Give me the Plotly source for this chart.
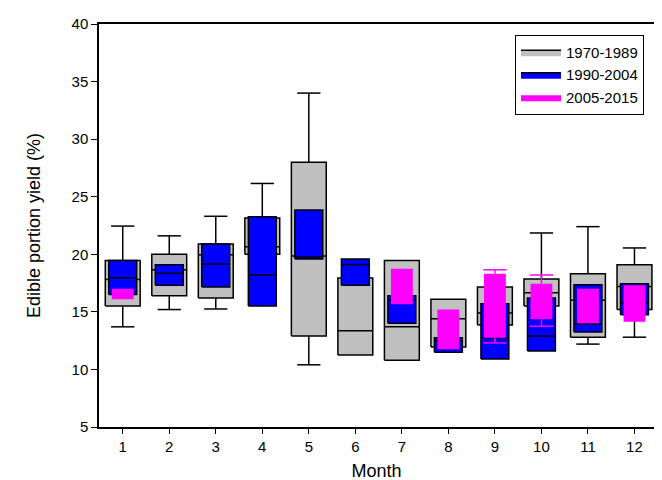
import plotly.graph_objects as go

months = [1, 2, 3, 4, 5, 6, 7, 8, 9, 10, 11, 12]
month_labels = [str(m) for m in months]

# 1970-1989 (gray)
gray_q1 = [15.5, 16.4, 16.2, 20.0, 12.9, 11.25, 10.8, 11.95, 13.85, 15.5, 12.8, 15.2]
gray_med = [17.8, 18.65, 19.95, 20.65, 19.85, 13.35, 13.7, 14.4, 14.9, 16.65, 16.0, 17.2]
gray_q3 = [19.45, 20.0, 20.9, 23.15, 28.0, 17.95, 19.45, 16.1, 17.15, 17.85, 18.3, 19.1]
gray_wlo = [13.7, 15.2, 15.25, None, 10.4, None, None, None, None, None, 12.2, 12.8]
gray_whi = [22.45, 21.6, 23.3, 26.15, 34.0, None, None, None, None, 21.85, 22.4, 20.55]

# 1990-2004 (blue)
blue_q1 = [16.5, 17.3, 17.15, 15.5, 19.6, 17.3, 14.0, 11.5, 10.9, 11.6, 13.25, 14.75]
blue_med = [17.95, 18.35, 19.15, 18.2, 19.75, 19.1, 16.05, 12.5, 12.75, 12.9, 13.95, 15.75]
blue_q3 = [19.45, 19.1, 20.9, 23.25, 23.85, 19.6, 16.4, 12.75, 15.7, 16.2, 17.35, 17.45]
blue_wlo = [None] * 12
blue_whi = [None] * 12

# 2005-2015 (magenta)
mag_q1 = [16.1, None, None, None, None, None, 15.65, 11.75, 12.75, 14.35, 14.0, 14.15]
mag_med = [16.5, None, None, None, None, None, 17.0, 13.5, 15.0, 15.5, 15.5, 15.5]
mag_q3 = [17.0, None, None, None, None, None, 18.75, 15.2, 18.3, 17.45, 17.0, 17.3]
mag_wlo = [None, None, None, None, None, None, None, None, 12.3, 13.75, None, None]
mag_whi = [None, None, None, None, None, None, None, None, 18.65, 18.2, None, None]

GRAY, BLUE, MAG = "#c0c0c0", "#0000ff", "#ff00ff"
W_GRAY, W_BLUE, W_MAG, W_CAP = 0.75, 0.6, 0.47, 0.5
FONT = "Liberation Sans, Arial, sans-serif"

fig = go.Figure()


def add_box(name, q1, med, q3, wlo, whi, color, width, line_color, line_w, med_color):
    # whiskers (drawn first, box covers the inner part)
    wx, wy = [], []
    for i, m in enumerate(months):
        for w, edge in ((wlo[i], q1[i]), (whi[i], q3[i])):
            if w is None or edge is None:
                continue
            wx += [m, m, None, m - W_CAP / 2, m + W_CAP / 2, None]
            wy += [edge, w, None, w, w, None]
    if wx:
        fig.add_trace(go.Scatter(x=wx, y=wy, mode="lines", line=dict(color=med_color, width=1.5),
                                 showlegend=False, hoverinfo="skip"))
    # boxes as filled polygons
    bx, by = [], []
    for m, a, b in zip(months, q1, q3):
        if a is None or b is None:
            continue
        x0, x1 = m - width / 2, m + width / 2
        bx += [x0, x1, x1, x0, x0, None]
        by += [a, a, b, b, a, None]
    fig.add_trace(go.Scatter(x=bx, y=by, mode="lines", fill="toself", fillcolor=color, name=name,
                             line=dict(color=line_color, width=line_w if line_w > 0 else 0.01),
                             hoverinfo="skip"))
    # medians
    mx, my = [], []
    for m, v in zip(months, med):
        if v is None:
            continue
        mx += [m - width / 2, m + width / 2, None]
        my += [v, v, None]
    fig.add_trace(go.Scatter(x=mx, y=my, mode="lines", line=dict(color=med_color, width=1.5),
                             showlegend=False, hoverinfo="skip"))


add_box("1970-1989", gray_q1, gray_med, gray_q3, gray_wlo, gray_whi, GRAY, W_GRAY, "black", 1.5, "black")
add_box("1990-2004", blue_q1, blue_med, blue_q3, blue_wlo, blue_whi, BLUE, W_BLUE, "black", 1.5, "black")
add_box("2005-2015", mag_q1, mag_med, mag_q3, mag_wlo, mag_whi, MAG, W_MAG, MAG, 0, MAG)

fig.update_layout(
    width=662, height=480,
    margin=dict(l=91, r=16, t=16, b=61, autoexpand=False),
    paper_bgcolor="white", plot_bgcolor="white",
    font=dict(family=FONT, size=15, color="black"),
    legend=dict(x=0.982, y=0.973, xanchor="right", yanchor="top",
                bordercolor="black", borderwidth=1, bgcolor="white",
                font=dict(size=15), traceorder="normal", itemwidth=40),
    showlegend=True,
)
fig.update_xaxes(range=[0.49, 12.42], tickmode="array", tickvals=months, ticktext=month_labels,
                 showline=True, linecolor="black", linewidth=1.5, mirror=True,
                 ticks="outside", ticklen=5, tickwidth=1, tickcolor="black",
                 showgrid=False, zeroline=False, automargin=False,
                 title=dict(text="Month", font=dict(size=18), standoff=11))
fig.update_yaxes(range=[5, 40], tickmode="array", tickvals=[5, 10, 15, 20, 25, 30, 35, 40],
                 showline=True, linecolor="black", linewidth=1.5, mirror=True,
                 ticks="outside", ticklen=6, tickwidth=1, tickcolor="black",
                 showgrid=False, zeroline=False, automargin=False,
                 title=dict(text="Edible portion yield (%)", font=dict(size=18), standoff=26))

fig.write_html("out.html")
